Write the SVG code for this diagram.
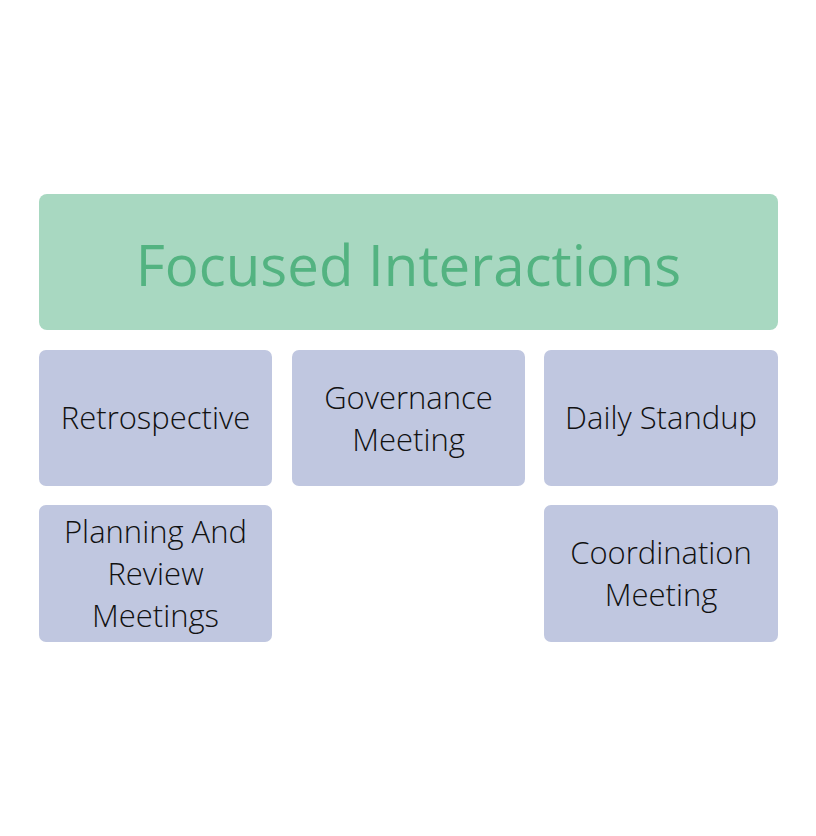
<svg xmlns="http://www.w3.org/2000/svg" width="816" height="836" viewBox="0 0 816 836">
<style>
.t{font-family:"Open Sans","DejaVu Sans",sans-serif;font-weight:300;text-anchor:middle}
.h{font-family:"Open Sans","DejaVu Sans",sans-serif;font-weight:400;text-anchor:middle;font-size:56.4px;fill:#53b381}
.n{fill:#c0c7e0}
.nt{font-size:31px;fill:#111}
</style>
<rect width="816" height="836" fill="#fff"/>
<g id="focused-interactions">
<rect x="39" y="194" width="739" height="136" rx="8" fill="#a8d8c1"/>
<text class="h" x="408.5" y="286">Focused Interactions</text>
</g>
<g id="retrospective">
<rect class="n" x="39" y="350" width="233" height="136" rx="7"/>
<text class="t nt" x="155.5" y="429">Retrospective</text>
</g>
<g id="governance-meeting">
<rect class="n" x="292" y="350" width="233" height="136" rx="7"/>
<text class="t nt" x="408.5" y="409">Governance</text>
<text class="t nt" x="408.5" y="451">Meeting</text>
</g>
<g id="daily-standup">
<rect class="n" x="544" y="350" width="234" height="136" rx="7"/>
<text class="t nt" x="661" y="429">Daily Standup</text>
</g>
<g id="planning-review">
<rect class="n" x="39" y="505" width="233" height="137" rx="7"/>
<text class="t nt" x="155.5" y="543">Planning And</text>
<text class="t nt" x="155.5" y="585">Review</text>
<text class="t nt" x="155.5" y="627">Meetings</text>
</g>
<g id="coordination-meeting">
<rect class="n" x="544" y="505" width="234" height="137" rx="7"/>
<text class="t nt" x="661" y="564">Coordination</text>
<text class="t nt" x="661" y="606">Meeting</text>
</g>
<g id="connectors"></g>
</svg>
